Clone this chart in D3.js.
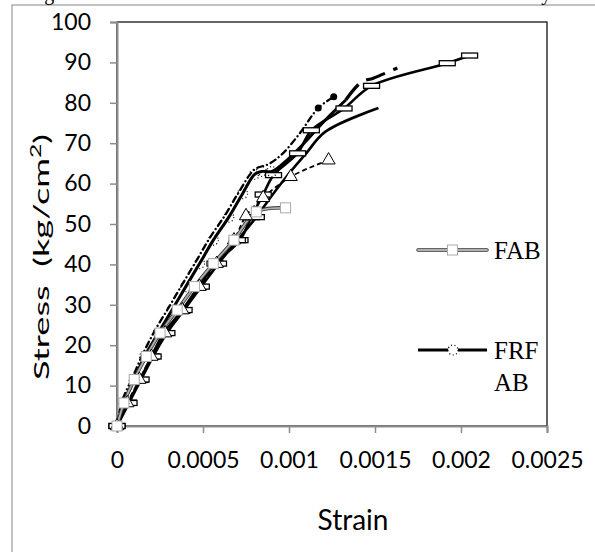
<!DOCTYPE html>
<html><head><meta charset="utf-8">
<script src="https://cdn.jsdelivr.net/npm/d3@7"></script>
<style>body{margin:0;background:#fff}svg{display:block}</style>
</head><body>
<svg id="c" width="595" height="552"></svg>
<script>
const xTicks=[0,0.0005,0.001,0.0015,0.002,0.0025];
const xTickLabels=["0","0.0005","0.001","0.0015","0.002","0.0025"];
const yTicks=[0,10,20,30,40,50,60,70,80,90,100];
const seriesNames=["FAB","FRF AB"];
// strain, stress
const fab=[[0,0],[0.00004,5.7],[0.0001,11.5],[0.00017,17.2],[0.00025,23],[0.00035,28.7],[0.00045,34.5],[0.00056,40.2],[0.00068,46],[0.00081,53],[0.00098,54]];
const frfab=[[0,0],[0.00004,5.7],[0.0001,11.5],[0.00016,17.2],[0.00024,23],[0.00032,28.7],[0.0004,34.5],[0.00048,40.2],[0.00056,46],[0.00065,51.7],[0.00073,57.5],[0.0008,62.3],[0.00084,63],[0.0009,63],[0.00098,65.5],[0.00107,69.2],[0.00121,75.7],[0.00133,80.7]];
const longSeries=[[0,0],[0.000066,5.8],[0.000134,11.4],[0.0002,17.2],[0.00027,22.9],[0.000376,28.5],[0.000473,34.4],[0.00057,40.2],[0.000715,46],[0.00078,51.7],[0.00085,57.3],[0.00091,62.1],[0.00105,67.5],[0.00113,73.2],[0.00132,78.6],[0.00148,84.2],[0.00192,89.8],[0.00205,91.7]];
const lowSeries=[[0,0],[0.00007,5.7],[0.00014,11.5],[0.00021,17.2],[0.00029,23],[0.00039,28.7],[0.00049,34.5],[0.00059,40.2],[0.0007,46],[0.00081,51.7],[0.0009,57],[0.001,62.5],[0.0011,67.5],[0.00121,72.8],[0.00152,78.7]];
const triSeries=[[0,0],[0.00006,5.7],[0.00013,11.5],[0.0002,17.2],[0.00028,23],[0.00038,28.7],[0.00048,34.5],[0.00058,40.2],[0.00068,46],[0.00075,52],[0.00085,56.5],[0.00101,61.7],[0.00123,65.8]];
const dotSeries=[[0,0],[0.00003,6.2],[0.00009,12],[0.00015,17.8],[0.00022,23.6],[0.0003,29.3],[0.00038,35.1],[0.00046,40.8],[0.00054,46.6],[0.00063,52.3],[0.00071,58],[0.0008,63.5],[0.00088,64.8],[0.00096,67.3],[0.00106,72.3],[0.00117,78.7],[0.00126,81.5]];
const dashSeries=[[0.00133,80.7],[0.00142,85.1],[0.00149,86.1],[0.00163,88.6]];

const svg=d3.select("#c");
const x=d3.scaleLinear().domain([0,0.0025]).range([117,547]);
const y=d3.scaleLinear().domain([0,100]).range([426,22]);

// outer frame
svg.append("rect").attr("x",12).attr("y",5).attr("width",620).attr("height",600)
  .attr("fill","none").attr("stroke","#9a9a9a").attr("stroke-width",1.2);
// cropped caption
svg.append("text").attr("x",26).attr("y",0).attr("font-family","Liberation Serif").attr("font-size",20)
  .attr("textLength",560).attr("lengthAdjust","spacing")
  .text("Figure 6: Stress-Strain Curve for FAB and FRF AB with Fly ash");

// plot border
svg.append("rect").attr("x",x(0)).attr("y",y(100)).attr("width",x(0.0025)-x(0)).attr("height",y(0)-y(100))
  .attr("fill","none").attr("stroke","#000").attr("stroke-width",1.2);

const gy=svg.append("g").attr("transform",`translate(${x(0)},0)`)
  .call(d3.axisLeft(y).tickValues(yTicks).tickSize(7).tickPadding(19).tickFormat(d3.format("d")));
const gx=svg.append("g").attr("transform",`translate(0,${y(0)})`)
  .call(d3.axisBottom(x).tickValues(xTicks).tickSize(7).tickPadding(19).tickFormat((d,i)=>xTickLabels[i]));
[gx,gy].forEach(g=>{
  g.select(".domain").attr("stroke","#8c8c8c").attr("stroke-width",2);
  g.selectAll(".tick line").attr("stroke","#8c8c8c").attr("stroke-width",1.5);
  g.selectAll(".tick text").attr("font-family","Lato").attr("font-size",23).attr("fill","#000");
});

const yt=svg.append("text").attr("transform",`translate(49,257) rotate(-90)`).attr("text-anchor","middle")
  .attr("font-family","Lato").attr("font-size",22).attr("textLength",246).attr("lengthAdjust","spacingAndGlyphs");
yt.append("tspan").text("Stress\u00a0 (kg/cm");
yt.append("tspan").attr("dy",-8).attr("font-size",15).text("2");
yt.append("tspan").attr("dy",8).text(")");
svg.append("text").attr("x",353).attr("y",530).attr("text-anchor","middle")
  .attr("font-family","Lato").attr("font-size",28).text("Strain");

const line=d3.line().x(d=>x(d[0])).y(d=>y(d[1])).curve(d3.curveCatmullRom.alpha(0.5));
const plot=svg.append("g");
function path(data,attrs){const p=plot.append("path").datum(data).attr("d",line).attr("fill","none");
  for(const k in attrs)p.attr(k,attrs[k]);return p;}

path(lowSeries,{stroke:"#000","stroke-width":2.6});
path(longSeries,{stroke:"#000","stroke-width":2.6});
path(frfab,{stroke:"#000","stroke-width":3});
path(triSeries,{stroke:"#000","stroke-width":1.8,"stroke-dasharray":"5,3"});
path(dotSeries,{stroke:"#000","stroke-width":2.3,"stroke-dasharray":"6,4,0.1,4","stroke-linecap":"round"});
path(dashSeries,{stroke:"#000","stroke-width":3.2,"stroke-dasharray":"20,9"});
// FAB double line
path(fab,{stroke:"#333","stroke-width":3.5});
path(fab,{stroke:"#b0b0b0","stroke-width":1.8});

// markers
function dashMarkers(data){plot.selectAll(null).data(data).enter().append("rect")
  .attr("x",d=>x(d[0])-8).attr("y",d=>y(d[1])-2.5).attr("width",16).attr("height",5)
  .attr("fill","#fff").attr("stroke","#000").attr("stroke-width",1.3);}
dashMarkers(longSeries);
dashMarkers(lowSeries.slice(0,10));
plot.selectAll(null).data(triSeries).enter().append("path")
  .attr("d",d3.symbol(d3.symbolTriangle,75))
  .attr("transform",d=>`translate(${x(d[0])},${y(d[1])})`)
  .attr("fill","#fff").attr("stroke","#000").attr("stroke-width",1);
plot.selectAll(null).data(frfab.slice(0,14)).enter().append("circle")
  .attr("cx",d=>x(d[0])).attr("cy",d=>y(d[1])).attr("r",5)
  .attr("fill","none").attr("stroke","#000").attr("stroke-width",1.2).attr("stroke-dasharray","1,2.5");
plot.selectAll(null).data(dotSeries.slice(-2)).enter().append("circle")
  .attr("cx",d=>x(d[0])).attr("cy",d=>y(d[1])).attr("r",3.5).attr("fill","#000");
plot.selectAll(null).data(fab).enter().append("rect")
  .attr("x",d=>x(d[0])-5).attr("y",d=>y(d[1])-5).attr("width",10).attr("height",10)
  .attr("fill","#fff").attr("stroke","#aaa").attr("stroke-width",1);

// legend
const leg=svg.append("g");
const legY=[250,350];
leg.append("line").attr("x1",418).attr("x2",487).attr("y1",legY[0]).attr("y2",legY[0]).attr("stroke","#333").attr("stroke-width",3.5).attr("stroke-linecap","round");
leg.append("line").attr("x1",418).attr("x2",487).attr("y1",legY[0]).attr("y2",legY[0]).attr("stroke","#b0b0b0").attr("stroke-width",1.8).attr("stroke-linecap","round");
leg.append("rect").attr("x",447.5).attr("y",legY[0]-5).attr("width",10).attr("height",10).attr("fill","#fff").attr("stroke","#aaa");
leg.append("line").attr("x1",418).attr("x2",487).attr("y1",legY[1]).attr("y2",legY[1]).attr("stroke","#000").attr("stroke-width",3);
leg.append("circle").attr("cx",453).attr("cy",legY[1]).attr("r",5).attr("fill","#fff").attr("stroke","#000").attr("stroke-width",1.2).attr("stroke-dasharray","1,2.5");
leg.append("text").attr("x",494).attr("y",legY[0]+8.5).attr("font-family","Liberation Serif").attr("font-size",25).text(seriesNames[0]);
const t2=leg.append("text").attr("font-family","Liberation Serif").attr("font-size",25);
t2.append("tspan").attr("x",494).attr("y",legY[1]+8.5).text("FRF");
t2.append("tspan").attr("x",494).attr("y",legY[1]+41).text("AB");
</script>
</body></html>
